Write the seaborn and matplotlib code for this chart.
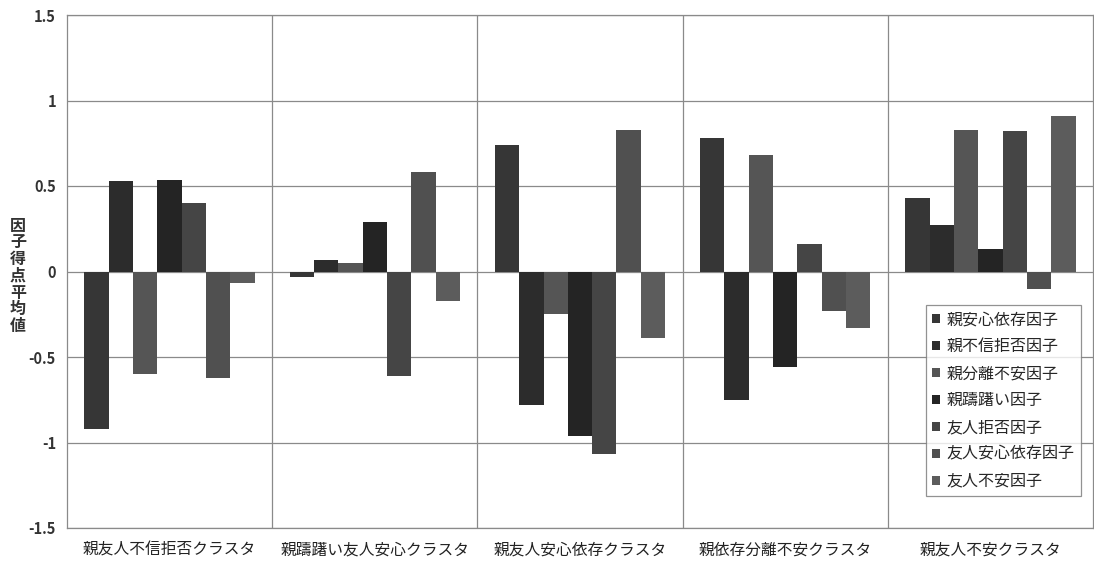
import numpy as np
import pandas as pd
import matplotlib
matplotlib.use("Agg")
import matplotlib.pyplot as plt
import seaborn as sns

clusters = ["親友人不信拒否クラスタ", "親躊躇い友人安心クラスタ", "親友人安心依存クラスタ",
            "親依存分離不安クラスタ", "親友人不安クラスタ"]
factors = ["親安心依存因子", "親不信拒否因子", "親分離不安因子", "親躊躇い因子",
           "友人拒否因子", "友人安心依存因子", "友人不安因子"]
# values[factor][cluster]
oya_anshin = [-0.92, -0.035, 0.74, 0.78, 0.43]
oya_fushin = [0.53, 0.07, -0.78, -0.75, 0.27]
oya_bunri = [-0.60, 0.047, -0.25, 0.68, 0.83]
oya_chucho = [0.535, 0.29, -0.96, -0.56, 0.13]
yujin_kyohi = [0.40, -0.61, -1.07, 0.16, 0.82]
yujin_anshin = [-0.62, 0.58, 0.83, -0.23, -0.10]
yujin_fuan = [-0.07, -0.17, -0.39, -0.33, 0.91]
yticks = [-1.5, -1, -0.5, 0, 0.5, 1, 1.5]
ytick_labels = ["-1.5", "-1", "-0.5", "0", "0.5", "1", "1.5"]

series = [oya_anshin, oya_fushin, oya_bunri, oya_chucho, yujin_kyohi, yujin_anshin, yujin_fuan]
rows = []
for f, vals in zip(factors, series):
    for c, v in zip(clusters, vals):
        rows.append({"cluster": c, "factor": f, "value": v})
df = pd.DataFrame(rows)

colors = ["#363636", "#2c2c2c", "#555555", "#242424", "#454545", "#505050", "#5c5c5c"]

sns.set_theme(style="white")
plt.rcParams["font.family"] = ["Noto Sans CJK JP", "DejaVu Sans"]

fig = plt.figure(figsize=(10.94, 5.63), dpi=100)
ax = fig.add_axes([67/1094, 35/563, 1026/1094, 513/563])

sns.barplot(data=df, x="cluster", y="value", hue="factor", order=clusters,
            hue_order=factors, palette=colors, width=0.83, saturation=1,
            errorbar=None, ax=ax, linewidth=0, zorder=3)

ax.set_ylim(-1.5, 1.5)
ax.set_xlim(-0.5, len(clusters) - 0.5)
ax.set_yticks(yticks)
ax.set_yticklabels(ytick_labels, fontweight="bold", fontsize=10.5, color="#333333")
ax.set_xticks(range(len(clusters)))
ax.set_xticklabels(clusters, fontsize=11.3, color="#222222")
ax.set_xticks(np.arange(0.5, len(clusters) - 0.5, 1), minor=True)
ax.tick_params(axis="both", which="both", length=0)
ax.tick_params(axis="x", pad=10)
ax.tick_params(axis="y", pad=8)
ax.grid(True, axis="y", which="major", color="#8a8a8a", linewidth=0.9, zorder=0)
ax.grid(True, axis="x", which="minor", color="#8a8a8a", linewidth=0.9, zorder=0)
ax.grid(False, axis="x", which="major")
for s in ax.spines.values():
    s.set_color("#8a8a8a")
    s.set_linewidth(0.9)
ax.set_xlabel("")
ax.set_ylabel("")

fig.text(18/1094, 1 - 276/563, "\n".join("因子得点平均値"), ha="center", va="center",
         fontsize=11.5, fontweight="bold", color="#333333", linespacing=1.05)

leg = ax.legend(loc="upper left", bbox_to_anchor=((926 - 67) / 1026, (528 - 305) / 513),
                frameon=True, fancybox=False, fontsize=11.5, handlelength=0.5,
                handleheight=0.5, handletextpad=0.4, borderpad=0.4,
                labelspacing=0.62, borderaxespad=0)
leg.get_frame().set_edgecolor("#777777")
leg.get_frame().set_linewidth(0.9)

fig.savefig("out.png", dpi=100)
